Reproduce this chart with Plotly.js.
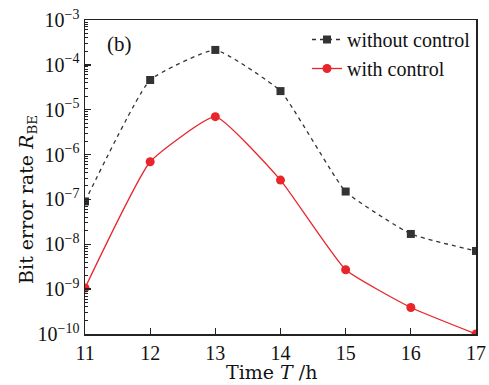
<!DOCTYPE html>
<html>
<head>
<meta charset="utf-8">
<script src="https://cdn.plot.ly/plotly-3.0.1.min.js"></script>
<style>html,body{margin:0;padding:0;background:#fff;}#chart{width:489px;height:385px;}</style>
</head>
<body>
<div id="chart"></div>
<script>
const timeHours = [11, 12, 13, 14, 15, 16, 17];
const berWithout = [9.0e-8, 4.6e-5, 2.15e-4, 2.6e-5, 1.5e-7, 1.7e-8, 7.1e-9];
const berWith = [1.06e-9, 6.9e-7, 7.0e-6, 2.7e-7, 2.7e-9, 3.9e-10, 1.0e-10];
const yTickVals = [1e-10, 1e-9, 1e-8, 1e-7, 1e-6, 1e-5, 1e-4, 1e-3];
const yTickText = ['10<sup>−10</sup>', '10<sup>−9</sup>', '10<sup>−8</sup>', '10<sup>−7</sup>', '10<sup>−6</sup>', '10<sup>−5</sup>', '10<sup>−4</sup>', '10<sup>−3</sup>'];
const xTickVals = [11, 12, 13, 14, 15, 16, 17];
const xTitle = 'Time <i>T</i> /h';
const yTitle = 'Bit error rate <i>R</i><sub>BE</sub>';

const minorVals = [];
for (let e = -10; e < -3; e++) {
  for (let m = 2; m <= 9; m++) minorVals.push(m * Math.pow(10, e));
}

const FONT = 'Liberation Serif, serif';
const TFONT = 'DejaVu Serif, serif';

const traces = [
  {
    x: timeHours, y: berWithout, name: 'without control',
    mode: 'lines+markers',
    line: {color: '#333333', width: 1.3, dash: '4px,4px', shape: 'spline', smoothing: 0.4},
    marker: {symbol: 'square', size: 8, color: '#333333'},
    cliponaxis: true
  },
  {
    x: timeHours, y: berWith, name: 'with control',
    mode: 'lines+markers',
    line: {color: '#e8252b', width: 1.3, shape: 'spline', smoothing: 0.4},
    marker: {symbol: 'circle', size: 9, color: '#e8252b'},
    cliponaxis: true
  }
];

const layout = {
  width: 489, height: 385,
  margin: {l: 85, r: 13, t: 20, b: 51},
  paper_bgcolor: '#fff', plot_bgcolor: '#fff',
  font: {family: FONT, color: '#111', size: 20},
  showlegend: true,
  legend: {
    x: 1.0, y: 1.0, xanchor: 'right', yanchor: 'top',
    bgcolor: 'rgba(0,0,0,0)', font: {family: FONT, size: 20, color: '#111'},
    tracegroupgap: 0, itemwidth: 30
  },
  xaxis: {
    range: [11, 17], tickvals: xTickVals, ticktext: xTickVals.map(String),
    ticks: 'inside', ticklen: 6, tickwidth: 1.3, tickcolor: '#222',
    showline: true, linecolor: '#222', linewidth: 1.5, mirror: true,
    showgrid: false, zeroline: false,
    tickfont: {family: FONT, size: 20, color: '#111'}
  },
  yaxis: {
    type: 'log', range: [-10, -3], tickvals: yTickVals, ticktext: yTickText,
    ticks: 'inside', ticklen: 6, tickwidth: 1.3, tickcolor: '#222',
    minor: {tickmode: 'array', tickvals: minorVals, ticks: 'inside', ticklen: 3, tickwidth: 1, tickcolor: '#222', showgrid: false},
    showline: true, linecolor: '#222', linewidth: 1.5, mirror: true,
    showgrid: false, zeroline: false,
    tickfont: {family: FONT, size: 20, color: '#111'}
  },
  annotations: [
    {xref: 'paper', yref: 'paper', x: 0.05, y: 0.925, xanchor: 'left', yanchor: 'middle',
     text: '(b)', showarrow: false, font: {family: FONT, size: 21, color: '#111'}},
    {xref: 'paper', yref: 'paper', x: -0.146, y: 0.43, xanchor: 'center', yanchor: 'middle',
     text: yTitle, textangle: -90, showarrow: false, font: {family: TFONT, size: 19, color: '#111'}},
    {xref: 'paper', yref: 'paper', x: 0.478, y: -0.122, xanchor: 'center', yanchor: 'middle',
     text: xTitle, showarrow: false, font: {family: TFONT, size: 19, color: '#111'}}
  ]
};

Plotly.newPlot('chart', traces, layout, {displayModeBar: false, staticPlot: true});
</script>
</body>
</html>
